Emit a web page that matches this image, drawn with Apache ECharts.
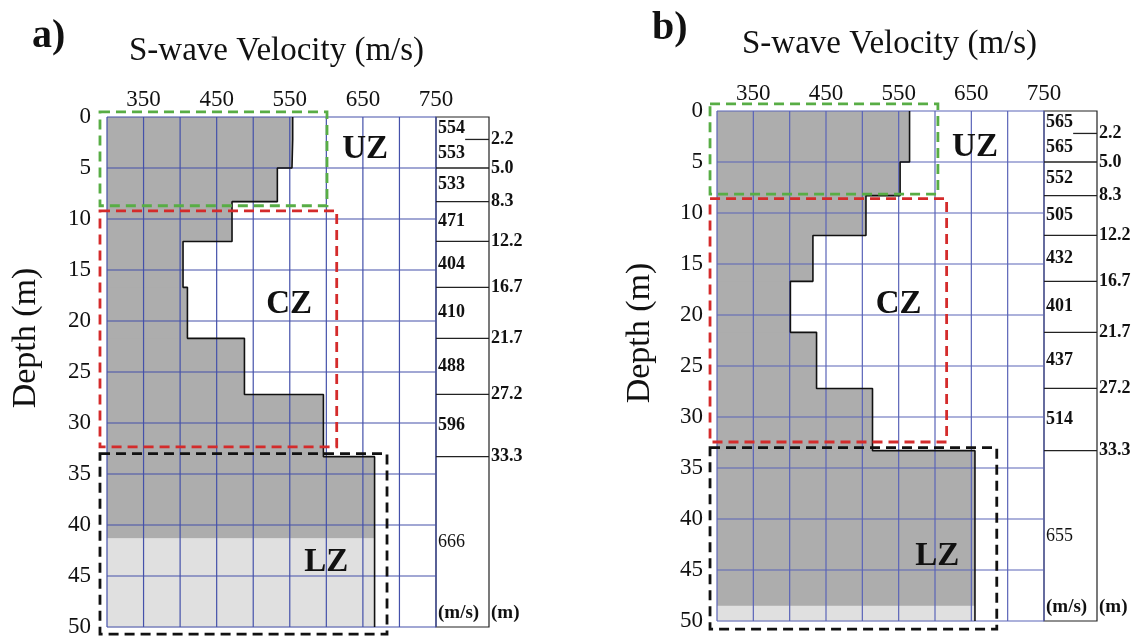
<!DOCTYPE html>
<html><head><meta charset="utf-8">
<script src="https://cdn.jsdelivr.net/npm/echarts@6/dist/echarts.min.js"></script>
<style>html,body{margin:0;padding:0;background:#fff}#c{width:1137px;height:640px}</style>
</head><body><div id="c"></div>
<script>
// ---- data ----
const layerTops    = [0, 2.2, 5.0, 8.3, 12.2, 16.7, 21.7, 27.2, 33.3];
const layerBottoms = [2.2, 5.0, 8.3, 12.2, 16.7, 21.7, 27.2, 33.3, 50];
const boundaryLabels = ['2.2', '5.0', '8.3', '12.2', '16.7', '21.7', '27.2', '33.3'];
const velA = [554, 553, 533, 471, 404, 410, 488, 596, 666];
const velB = [565, 565, 552, 505, 432, 401, 437, 514, 655];
const lightTopA = 41.3;
const lightTopB = 48.5;
const xTickLabels = [350, 450, 550, 650, 750];
const xGridValues = [300, 350, 400, 450, 500, 550, 600, 650, 700, 750];
const depthGridValues = [0, 5, 10, 15, 20, 25, 30, 35, 40, 45, 50];
const zoneNames = ['UZ', 'CZ', 'LZ'];
const panelNames = ['a)', 'b)'];
const titleText = 'S-wave Velocity (m/s)';
const depthName = 'Depth (m)';
const unitLabels = ['(m/s)', '(m)'];

// ---- chart ----
const SERIF = "'Liberation Serif', 'Times New Roman', 'DejaVu Serif', serif";
const chart = echarts.init(document.getElementById('c'), null, {renderer: 'canvas'});

const panels = [
  { vel: velA, light: lightTopA, grid: {left: 107, top: 117, width: 329, height: 510},
    box: {left: 436, top: 117, width: 53, height: 510}, blue: '#4451aa', ylabMargin: 16,
    zones: [[653, 3.2], [549, 18.4], [600, 43.7]],
    rects: [
      {c: '#58ad45', r: [290.4, 600.9, -0.5, 8.7]},
      {c: '#d42b2b', r: [290.4, 614.2, 9.2, 32.35]},
      {c: '#111111', r: [290.4, 683, 33.0, 50.7]}
    ]},
  { vel: velB, light: lightTopB, grid: {left: 717, top: 111, width: 327, height: 510},
    box: {left: 1044, top: 111, width: 53, height: 510}, blue: '#5a64b8', ylabMargin: 14,
    zones: [[655, 3.6], [550, 19.0], [603, 43.7]],
    rects: [
      {c: '#58ad45', r: [290.4, 604, -0.7, 8.15]},
      {c: '#d42b2b', r: [290.4, 616, 8.6, 32.45]},
      {c: '#111111', r: [290.4, 685, 33.0, 50.8]}
    ]}
];

// text series helper
function textSeries(xi, yi, items) {
  return {type: 'custom', xAxisIndex: xi, yAxisIndex: yi, z: 8, silent: true, clip: false,
    encode: {x: 0, y: 1}, data: items.map(it => [it.x, it.y]),
    renderItem: (params, api) => {
      const it = items[params.dataIndex];
      const pt = api.coord([api.value(0), api.value(1)]);
      return {type: 'text', x: pt[0] + (it.dx || 0), y: pt[1] + (it.dy || 0),
        style: {text: it.t, fill: '#111', font: it.font, align: it.align || 'left', verticalAlign: 'middle',
          textAlign: it.align || 'left', textVerticalAlign: 'middle'}};
    }};
}

const grids = [], xAxes = [], yAxes = [], series = [];
panels.forEach((p, pi) => {
  const m = pi * 2, k = pi * 2 + 1;
  grids.push(Object.assign({outerBoundsMode: 'none', containLabel: false, show: false}, p.grid));
  grids.push(Object.assign({outerBoundsMode: 'none', containLabel: false, show: true,
    borderColor: '#222', borderWidth: 1.2, backgroundColor: 'rgba(0,0,0,0)'}, p.box));
  xAxes.push({gridIndex: m, type: 'value', min: 300, max: 750, interval: 50, position: 'top',
    axisLine: {show: false}, axisTick: {show: false}, splitLine: {show: false}, splitArea: {show: false},
    axisLabel: {customValues: xTickLabels, fontFamily: SERIF, fontSize: 23, color: '#111', margin: 6}});
  xAxes.push({gridIndex: k, type: 'value', min: 0, max: 1, show: false, splitLine: {show: false}});
  yAxes.push({gridIndex: m, type: 'value', inverse: true, min: 0, max: 50, interval: 5,
    axisLine: {show: false}, axisTick: {show: false}, splitLine: {show: false}, splitArea: {show: false},
    axisLabel: {fontFamily: SERIF, fontSize: 23, color: '#111', margin: p.ylabMargin}});
  yAxes.push({gridIndex: k, type: 'value', inverse: true, min: 0, max: 50, show: false, splitLine: {show: false}});

  // fill segments
  const segs = [];
  p.vel.forEach((v, i) => {
    const t = layerTops[i], b = layerBottoms[i];
    if (p.light > t && p.light < b) {
      segs.push([t, p.light, v, 0]);
      segs.push([p.light, b, v, 1]);
    } else segs.push([t, b, v, 0]);
  });
  series.push({type: 'custom', xAxisIndex: m, yAxisIndex: m, z: 2, silent: true,
    encode: {x: 2, y: [0, 1]}, data: segs,
    renderItem: (params, api) => {
      const p0 = api.coord([300, api.value(0)]);
      const p1 = api.coord([api.value(2), api.value(1)]);
      return {type: 'rect', shape: {x: p0[0], y: p0[1], width: p1[0] - p0[0], height: p1[1] - p0[1] + 0.6},
        style: {fill: api.value(3) ? '#e0e0e0' : '#adadad'}};
    }});

  // grid lines (drawn above the fill)
  const gl = xGridValues.map(v => [0, v]).concat(depthGridValues.map(d => [1, d]));
  series.push({type: 'custom', xAxisIndex: m, yAxisIndex: m, z: 3, silent: true, clip: false,
    encode: {x: 1}, data: gl,
    renderItem: (params, api) => {
      const kind = api.value(0), v = api.value(1);
      let a, b;
      if (kind === 0) { a = api.coord([v, 0]); b = api.coord([v, 50]); }
      else { a = api.coord([300, v]); b = api.coord([750, v]); }
      return {type: 'line', shape: {x1: a[0], y1: a[1], x2: b[0], y2: b[1]},
        style: {stroke: p.blue, lineWidth: 1.2}};
    }});

  // outline of profile
  const outline = [];
  p.vel.forEach((v, i) => { outline.push([v, layerTops[i]]); outline.push([v, layerBottoms[i]]); });
  series.push({type: 'line', xAxisIndex: m, yAxisIndex: m, z: 5, data: outline, symbol: 'none',
    silent: true, lineStyle: {color: '#111', width: 1.6}, animation: false});

  // zone dashed boxes
  series.push({type: 'custom', xAxisIndex: m, yAxisIndex: m, z: 6, clip: false, silent: true,
    encode: {x: [0, 1], y: [2, 3]}, data: p.rects.map(R => R.r),
    renderItem: (params, api) => {
      const a = api.coord([api.value(0), api.value(2)]);
      const b = api.coord([api.value(1), api.value(3)]);
      return {type: 'rect', shape: {x: a[0], y: a[1], width: b[0] - a[0], height: b[1] - a[1]},
        style: {fill: 'none', stroke: p.rects[params.dataIndex].c, lineWidth: 2.8, lineDash: [10, 6]}};
    }});

  // zone names
  series.push(textSeries(m, m, p.zones.map((z, i) => ({x: z[0], y: z[1], t: zoneNames[i],
    align: 'center', font: "bold 33px " + SERIF}))));

  // box: boundary lines
  series.push({type: 'custom', xAxisIndex: k, yAxisIndex: k, z: 3, silent: true,
    encode: {x: 1, y: 0},
    data: layerBottoms.slice(0, -1).map((d, i) => [d, i === 0 ? 0.55 : 0]),
    renderItem: (params, api) => {
      const a = api.coord([api.value(1), api.value(0)]);
      const b = api.coord([1, api.value(0)]);
      return {type: 'line', shape: {x1: a[0], y1: a[1], x2: b[0], y2: b[1]},
        style: {stroke: '#222', lineWidth: 1.3}};
    }});
  // velocity labels
  series.push(textSeries(k, k, p.vel.map((v, i) => ({x: 0, y: (layerTops[i] + layerBottoms[i]) / 2,
    t: String(v), dx: 2, font: (i === p.vel.length - 1 ? '' : 'bold ') + '18px ' + SERIF}))));
  // depth labels
  series.push(textSeries(k, k, boundaryLabels.map((t, i) => ({x: 1, y: layerBottoms[i], t: t, dx: 2,
    font: 'bold 18px ' + SERIF}))));
  // unit labels
  series.push(textSeries(k, k, [
    {x: 0, y: 48.6, t: unitLabels[0], dx: 2, font: 'bold 19px ' + SERIF},
    {x: 1, y: 48.6, t: unitLabels[1], dx: 2, font: 'bold 19px ' + SERIF}]));
});

const option = {
  animation: false,
  backgroundColor: '#fff',
  title: [
    {text: panelNames[0], left: 32, top: 17, padding: 0, textStyle: {fontFamily: SERIF, fontWeight: 'bold', fontSize: 40, color: '#111'}},
    {text: panelNames[1], left: 652, top: 9, padding: 0, textStyle: {fontFamily: SERIF, fontWeight: 'bold', fontSize: 40, color: '#111'}},
    {text: titleText, left: 129, top: 35, padding: 0, textStyle: {fontFamily: SERIF, fontWeight: 'normal', fontSize: 33, color: '#111'}},
    {text: titleText, left: 742, top: 28, padding: 0, textStyle: {fontFamily: SERIF, fontWeight: 'normal', fontSize: 33, color: '#111'}}
  ],
  graphic: [
    {type: 'text', x: 26, y: 338, rotation: Math.PI / 2, style: {text: depthName, fontFamily: SERIF, fontSize: 34, fill: '#111', align: 'center', verticalAlign: 'middle', textAlign: 'center', textVerticalAlign: 'middle'}},
    {type: 'text', x: 640, y: 333, rotation: Math.PI / 2, style: {text: depthName, fontFamily: SERIF, fontSize: 34, fill: '#111', align: 'center', verticalAlign: 'middle', textAlign: 'center', textVerticalAlign: 'middle'}}
  ],
  grid: grids, xAxis: xAxes, yAxis: yAxes, series: series
};
chart.setOption(option);
</script></body></html>
